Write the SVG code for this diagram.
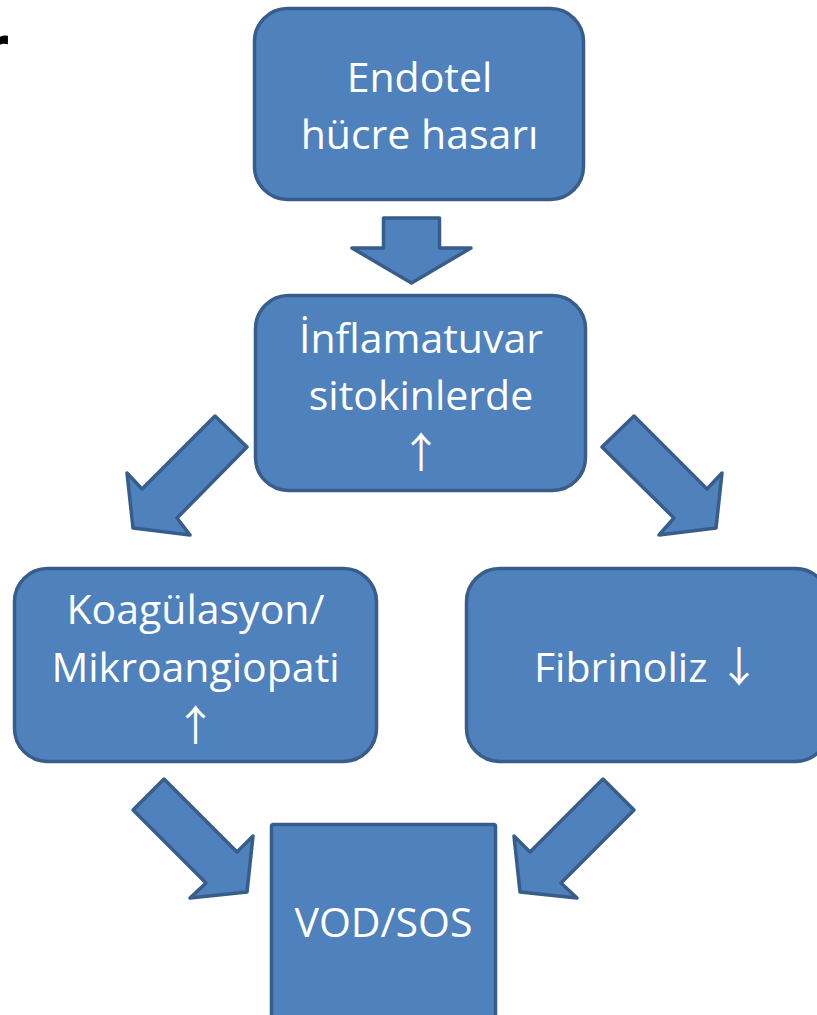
<svg xmlns="http://www.w3.org/2000/svg" width="817" height="1015" viewBox="0 0 817 1015">
  <style>
    .box { fill: #4F81BD; stroke: #385D8A; stroke-width: 3.5; stroke-linejoin: round; }
    .arrow { fill: #4F81BD; stroke: #385D8A; stroke-width: 3.5; stroke-linejoin: round; }
    .lbl { font-family: "Open Sans", "Noto Sans", sans-serif; font-size: 41px; fill: #FFFFFF; text-anchor: middle; }
    .sym { font-family: "Noto Sans CJK SC", "DejaVu Sans", sans-serif; font-size: 42px; }
  </style>
  <rect width="817" height="1015" fill="#FFFFFF"/>
  <text x="-19" y="74" font-family="'Liberation Sans', Arial, sans-serif" font-weight="700" font-size="72" fill="#000000">r</text>

  <g id="connectors">
    <polygon class="arrow" points="383.5,218 439.5,218 439.5,248 471,248 411.5,283 352,248 383.5,248"/>
    <polygon class="arrow" points="215,416 247,447 177,518 190,535 133,528 127,473 142,489"/>
    <polygon class="arrow" points="634,416 602,447 674,518 659,535 716,528 722,473 707,489"/>
    <polygon class="arrow" points="164,779 133,810 206,883 190,898 247,892 253,836 237,852"/>
    <polygon class="arrow" points="603,779 634,810 561,883 577,898 520,892 514,836 530,852"/>
  </g>

  <g id="node-endotel">
    <rect class="box" x="254.5" y="8.5" width="329" height="191" rx="33"/>
    <text class="lbl" x="419.5" y="92">Endotel</text>
    <text class="lbl" x="419.5" y="149">hücre hasarı</text>
  </g>

  <g id="node-inflamatuvar">
    <rect class="box" x="255.5" y="295.5" width="330" height="195" rx="33"/>
    <text class="lbl" x="421" y="353">İnflamatuvar</text>
    <text class="lbl" x="421" y="410">sitokinlerde</text>
    <text class="lbl sym" x="421" y="468">↑</text>
  </g>

  <g id="node-koagulasyon">
    <rect class="box" x="14.5" y="568.5" width="362" height="193" rx="33"/>
    <text class="lbl" x="195.5" y="624">Koagülasyon/</text>
    <text class="lbl" x="195.5" y="682">Mikroangiopati</text>
    <text class="lbl sym" x="195.5" y="741">↑</text>
  </g>

  <g id="node-fibrinoliz">
    <rect class="box" x="466.5" y="568.5" width="362" height="193" rx="33"/>
    <text class="lbl" x="647" y="682">Fibrinoliz <tspan class="sym">↓</tspan></text>
  </g>

  <g id="node-vod">
    <rect class="box" x="271.5" y="824.5" width="224" height="220" rx="2"/>
    <text class="lbl" x="383.5" y="937">VOD/SOS</text>
  </g>
</svg>
